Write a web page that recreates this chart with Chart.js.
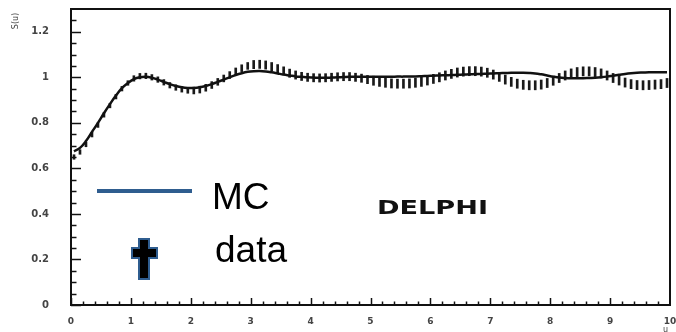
<!DOCTYPE html>
<html>
<head>
<meta charset="utf-8">
<script src="https://cdn.jsdelivr.net/npm/chart.js@4.4.0/dist/chart.umd.min.js"></script>
<style>
    html, body { margin: 0; padding: 0; background: #fff; }
</style>
</head>
<body>
<canvas id="myChart" width="676" height="332"></canvas>
<script>
// bin centres in u
const binsU = [
    0.05, 0.15, 0.25, 0.35, 0.45, 0.55, 0.65, 0.75, 0.85, 0.95,
    1.05, 1.15, 1.25, 1.35, 1.45, 1.55, 1.65, 1.75, 1.85, 1.95,
    2.05, 2.15, 2.25, 2.35, 2.45, 2.55, 2.65, 2.75, 2.85, 2.95,
    3.05, 3.15, 3.25, 3.35, 3.45, 3.55, 3.65, 3.75, 3.85, 3.95,
    4.05, 4.15, 4.25, 4.35, 4.45, 4.55, 4.65, 4.75, 4.85, 4.95,
    5.05, 5.15, 5.25, 5.35, 5.45, 5.55, 5.65, 5.75, 5.85, 5.95,
    6.05, 6.15, 6.25, 6.35, 6.45, 6.55, 6.65, 6.75, 6.85, 6.95,
    7.05, 7.15, 7.25, 7.35, 7.45, 7.55, 7.65, 7.75, 7.85, 7.95,
    8.05, 8.15, 8.25, 8.35, 8.45, 8.55, 8.65, 8.75, 8.85, 8.95,
    9.05, 9.15, 9.25, 9.35, 9.45, 9.55, 9.65, 9.75, 9.85, 9.95
];

// simulation (MC)
const mcValues = [
    0.675, 0.690, 0.720, 0.760, 0.800, 0.842, 0.882, 0.920, 0.952, 0.975,
    0.992, 1.000, 1.002, 0.998, 0.990, 0.980, 0.970, 0.962, 0.956, 0.953,
    0.953, 0.956, 0.962, 0.970, 0.980, 0.990, 1.000, 1.010, 1.018, 1.024,
    1.027, 1.028, 1.026, 1.022, 1.017, 1.012, 1.008, 1.004, 1.002, 1.000,
    0.999, 0.998, 0.998, 0.999, 1.000, 1.001, 1.002, 1.002, 1.002, 1.002,
    1.002, 1.002, 1.002, 1.002, 1.003, 1.003, 1.004, 1.004, 1.005, 1.006,
    1.007, 1.008, 1.009, 1.010, 1.011, 1.012, 1.013, 1.014, 1.015, 1.016,
    1.017, 1.018, 1.019, 1.020, 1.020, 1.020, 1.019, 1.017, 1.013, 1.008,
    1.003, 0.999, 0.997, 0.996, 0.996, 0.996, 0.997, 0.998, 1.000, 1.003,
    1.007, 1.011, 1.015, 1.018, 1.020, 1.021, 1.022, 1.022, 1.022, 1.022
];

// measured S(u)
const dataValues = [
    0.650, 0.672, 0.705, 0.748, 0.790, 0.835, 0.876, 0.915, 0.950, 0.975,
    0.995, 1.005, 1.006, 1.000, 0.990, 0.978, 0.965, 0.955, 0.947, 0.942,
    0.942, 0.946, 0.954, 0.966, 0.980, 0.995, 1.010, 1.026, 1.040, 1.050,
    1.056, 1.057, 1.054, 1.047, 1.038, 1.028, 1.018, 1.010, 1.004, 1.000,
    0.998, 0.997, 0.998, 1.000, 1.002, 1.003, 1.003, 1.000, 0.996, 0.990,
    0.985, 0.980, 0.976, 0.973, 0.972, 0.972, 0.973, 0.976, 0.980, 0.986,
    0.993, 1.000, 1.008, 1.015, 1.021, 1.025, 1.027, 1.027, 1.025, 1.020,
    1.012, 1.002, 0.990, 0.980, 0.972, 0.967, 0.965, 0.965, 0.968, 0.975,
    0.985, 0.997, 1.008, 1.017, 1.023, 1.026, 1.026, 1.023, 1.017, 1.008,
    0.997, 0.986, 0.977, 0.970, 0.966, 0.965, 0.966, 0.968, 0.970, 0.975
];

// half-length of the error bars
const dataErrors = [
    0.010, 0.010, 0.010, 0.010, 0.010, 0.010, 0.010, 0.010, 0.010, 0.010,
    0.012, 0.012, 0.012, 0.012, 0.012, 0.012, 0.012, 0.012, 0.012, 0.012,
    0.015, 0.015, 0.015, 0.015, 0.015, 0.015, 0.015, 0.015, 0.015, 0.015,
    0.018, 0.018, 0.018, 0.018, 0.018, 0.018, 0.018, 0.018, 0.018, 0.018,
    0.018, 0.018, 0.018, 0.018, 0.018, 0.018, 0.018, 0.018, 0.018, 0.018,
    0.020, 0.020, 0.020, 0.020, 0.020, 0.020, 0.020, 0.020, 0.020, 0.020,
    0.020, 0.020, 0.020, 0.020, 0.020, 0.020, 0.020, 0.020, 0.020, 0.020,
    0.020, 0.020, 0.020, 0.020, 0.020, 0.020, 0.020, 0.020, 0.020, 0.020,
    0.020, 0.020, 0.020, 0.020, 0.020, 0.020, 0.020, 0.020, 0.020, 0.020,
    0.020, 0.020, 0.020, 0.020, 0.020, 0.020, 0.020, 0.020, 0.020, 0.020
];

const xTicks = [0, 1, 2, 3, 4, 5, 6, 7, 8, 9, 10];
const yTicks = [0, 0.2, 0.4, 0.6, 0.8, 1, 1.2];

const legendBlue = '#2f5d8f';

// box, inward ticks, legend and labels drawn over the chart
const frame = {
    id: 'frame',
    afterDraw(chart) {
        const { ctx, chartArea: a, scales: { x, y } } = chart;
        ctx.save();
        ctx.strokeStyle = '#111';
        ctx.lineWidth = 1.5;
        for (let i = 0; i < 50; i++) {
            const px = Math.round(x.getPixelForValue(i * 0.2)) + 0.5;
            const len = i % 5 === 0 ? 7 : 3.5;
            ctx.beginPath();
            ctx.moveTo(px, a.bottom);
            ctx.lineTo(px, a.bottom - len);
            ctx.stroke();
        }
        for (let i = 0; i < 26; i++) {
            const py = Math.round(y.getPixelForValue(i * 0.05)) + 0.5;
            const len = i % 4 === 0 ? 10 : 5.5;
            ctx.beginPath();
            ctx.moveTo(a.left, py);
            ctx.lineTo(a.left + len, py);
            ctx.stroke();
        }
        ctx.lineWidth = 2;
        ctx.strokeRect(a.left, a.top, a.right - a.left, a.bottom - a.top);

        // axis titles
        ctx.fillStyle = '#444';
        ctx.font = '8px "DejaVu Sans"';
        ctx.save();
        ctx.translate(16, 21);
        ctx.rotate(-Math.PI / 2);
        ctx.textAlign = 'center';
        ctx.textBaseline = 'middle';
        ctx.fillText('S(u)', 0, 0);
        ctx.restore();
        ctx.textAlign = 'left';
        ctx.textBaseline = 'top';
        ctx.fillText('u', 663, 326);

        // DELPHI tag
        ctx.fillStyle = '#111';
        ctx.font = 'bold 20px "DejaVu Sans"';
        ctx.textBaseline = 'middle';
        const w = ctx.measureText('DELPHI').width;
        ctx.save();
        ctx.translate(377, 209);
        ctx.scale(111 / w, 1);
        ctx.fillText('DELPHI', 0, 0);
        ctx.restore();

        // legend
        ctx.strokeStyle = legendBlue;
        ctx.lineWidth = 4;
        ctx.beginPath();
        ctx.moveTo(97, 191);
        ctx.lineTo(192, 191);
        ctx.stroke();

        ctx.beginPath();
        ctx.moveTo(139, 239);
        ctx.lineTo(149, 239);
        ctx.lineTo(149, 248);
        ctx.lineTo(157, 248);
        ctx.lineTo(157, 258);
        ctx.lineTo(149, 258);
        ctx.lineTo(149, 279);
        ctx.lineTo(139, 279);
        ctx.lineTo(139, 258);
        ctx.lineTo(132, 258);
        ctx.lineTo(132, 248);
        ctx.lineTo(139, 248);
        ctx.closePath();
        ctx.fillStyle = '#000';
        ctx.fill();
        ctx.lineWidth = 2;
        ctx.stroke();

        ctx.fillStyle = '#000';
        ctx.font = '37px "Liberation Sans"';
        ctx.textBaseline = 'alphabetic';
        ctx.fillText('MC', 212, 209);
        ctx.fillText('data', 215, 262);
        ctx.restore();
    }
};

const ctx = document.getElementById('myChart').getContext('2d');
const myChart = new Chart(ctx, {
    data: {
        datasets: [
            {
                type: 'line',
                label: 'MC',
                data: binsU.map((u, i) => ({ x: u, y: mcValues[i] })),
                borderColor: '#111',
                borderWidth: 2.5,
                pointRadius: 0,
                tension: 0.4,
                order: 0
            },
            {
                type: 'bar',
                label: 'data',
                data: binsU.map((u, i) => ({ x: u, y: [dataValues[i] - dataErrors[i], dataValues[i] + dataErrors[i]] })),
                backgroundColor: '#1a1a1a',
                barThickness: 2,
                grouped: false,
                order: 1
            }
        ]
    },
    options: {
        responsive: false,
        animation: false,
        layout: { padding: { left: 0, top: 9, right: 6, bottom: 0 } },
        plugins: { legend: { display: false }, tooltip: { enabled: false } },
        scales: {
            x: {
                type: 'linear',
                min: 0,
                max: 10,
                offset: false,
                grid: { display: false, offset: false },
                border: { display: false },
                afterBuildTicks: (scale) => { scale.ticks = xTicks.map(v => ({ value: v })); },
                afterFit: (scale) => { scale.height = 27; scale.paddingLeft = 0; scale.paddingRight = 0; },
                ticks: {
                    padding: 3,
                    maxRotation: 0,
                    autoSkip: false,
                    color: '#444',
                    font: { family: 'DejaVu Sans', size: 9, weight: 'bold' }
                }
            },
            y: {
                min: 0,
                max: 1.3,
                grid: { display: false },
                border: { display: false },
                afterBuildTicks: (scale) => { scale.ticks = yTicks.map(v => ({ value: v })); },
                afterFit: (scale) => { scale.width = 71; scale.paddingTop = 0; scale.paddingBottom = 0; },
                ticks: {
                    padding: 14,
                    color: '#444',
                    font: { family: 'DejaVu Sans', size: 10, weight: 'bold' },
                    callback: (v) => String(v)
                }
            }
        }
    },
    plugins: [frame]
});
</script>
</body>
</html>
